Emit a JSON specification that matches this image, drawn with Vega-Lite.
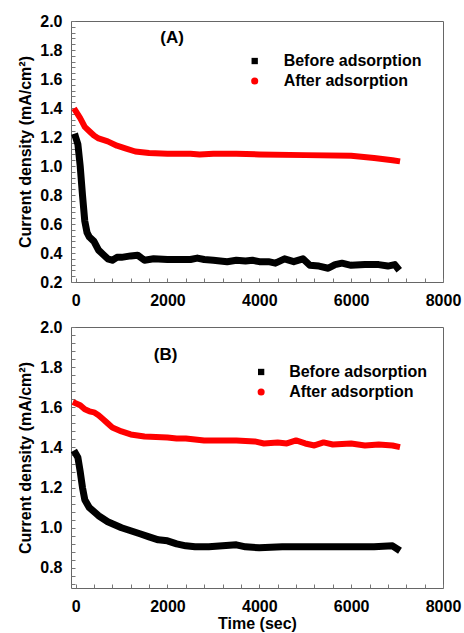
{
  "$schema": "https://vega.github.io/schema/vega-lite/v6.json",
  "padding": {"left": 17, "top": 12, "right": 5, "bottom": 2},
  "config": {
    "font": "Liberation Sans",
    "view": {"stroke": "#666", "strokeWidth": 1},
    "axis": {"grid": false, "domain": false, "ticks": true, "tickSize": -4, "tickColor": "#777", "labelFont": "Liberation Sans", "labelFontSize": 16, "labelFontWeight": "bold", "labelColor": "#000", "titleFont": "Liberation Sans", "titleFontSize": 16, "titleFontWeight": "bold", "titleColor": "#000", "labelFlush": false, "labelOverlap": false}
  },
  "datasets": {
    "A": [
      {"t": 0, "j": 1.2, "s": "Before adsorption"},
      {"t": 50, "j": 1.15, "s": "Before adsorption"},
      {"t": 100, "j": 1.0, "s": "Before adsorption"},
      {"t": 150, "j": 0.8, "s": "Before adsorption"},
      {"t": 200, "j": 0.62, "s": "Before adsorption"},
      {"t": 250, "j": 0.54, "s": "Before adsorption"},
      {"t": 300, "j": 0.51, "s": "Before adsorption"},
      {"t": 400, "j": 0.48, "s": "Before adsorption"},
      {"t": 500, "j": 0.42, "s": "Before adsorption"},
      {"t": 600, "j": 0.39, "s": "Before adsorption"},
      {"t": 700, "j": 0.36, "s": "Before adsorption"},
      {"t": 800, "j": 0.35, "s": "Before adsorption"},
      {"t": 900, "j": 0.37, "s": "Before adsorption"},
      {"t": 1000, "j": 0.37, "s": "Before adsorption"},
      {"t": 1200, "j": 0.38, "s": "Before adsorption"},
      {"t": 1350, "j": 0.385, "s": "Before adsorption"},
      {"t": 1500, "j": 0.35, "s": "Before adsorption"},
      {"t": 1700, "j": 0.36, "s": "Before adsorption"},
      {"t": 2000, "j": 0.355, "s": "Before adsorption"},
      {"t": 2500, "j": 0.355, "s": "Before adsorption"},
      {"t": 2650, "j": 0.365, "s": "Before adsorption"},
      {"t": 2800, "j": 0.355, "s": "Before adsorption"},
      {"t": 3000, "j": 0.35, "s": "Before adsorption"},
      {"t": 3300, "j": 0.34, "s": "Before adsorption"},
      {"t": 3500, "j": 0.35, "s": "Before adsorption"},
      {"t": 3700, "j": 0.345, "s": "Before adsorption"},
      {"t": 3850, "j": 0.35, "s": "Before adsorption"},
      {"t": 4000, "j": 0.34, "s": "Before adsorption"},
      {"t": 4200, "j": 0.34, "s": "Before adsorption"},
      {"t": 4350, "j": 0.33, "s": "Before adsorption"},
      {"t": 4550, "j": 0.36, "s": "Before adsorption"},
      {"t": 4750, "j": 0.34, "s": "Before adsorption"},
      {"t": 4950, "j": 0.36, "s": "Before adsorption"},
      {"t": 5100, "j": 0.315, "s": "Before adsorption"},
      {"t": 5300, "j": 0.31, "s": "Before adsorption"},
      {"t": 5500, "j": 0.295, "s": "Before adsorption"},
      {"t": 5650, "j": 0.32, "s": "Before adsorption"},
      {"t": 5800, "j": 0.33, "s": "Before adsorption"},
      {"t": 6000, "j": 0.315, "s": "Before adsorption"},
      {"t": 6300, "j": 0.32, "s": "Before adsorption"},
      {"t": 6600, "j": 0.32, "s": "Before adsorption"},
      {"t": 6800, "j": 0.31, "s": "Before adsorption"},
      {"t": 6950, "j": 0.32, "s": "Before adsorption"},
      {"t": 7000, "j": 0.3, "s": "Before adsorption"},
      {"t": 0, "j": 1.38, "s": "After adsorption"},
      {"t": 100, "j": 1.33, "s": "After adsorption"},
      {"t": 200, "j": 1.27, "s": "After adsorption"},
      {"t": 300, "j": 1.24, "s": "After adsorption"},
      {"t": 400, "j": 1.21, "s": "After adsorption"},
      {"t": 500, "j": 1.19, "s": "After adsorption"},
      {"t": 700, "j": 1.17, "s": "After adsorption"},
      {"t": 900, "j": 1.14, "s": "After adsorption"},
      {"t": 1100, "j": 1.12, "s": "After adsorption"},
      {"t": 1300, "j": 1.1, "s": "After adsorption"},
      {"t": 1600, "j": 1.09, "s": "After adsorption"},
      {"t": 2000, "j": 1.085, "s": "After adsorption"},
      {"t": 2500, "j": 1.085, "s": "After adsorption"},
      {"t": 2700, "j": 1.08, "s": "After adsorption"},
      {"t": 3000, "j": 1.085, "s": "After adsorption"},
      {"t": 3500, "j": 1.085, "s": "After adsorption"},
      {"t": 4000, "j": 1.08, "s": "After adsorption"},
      {"t": 5000, "j": 1.075, "s": "After adsorption"},
      {"t": 6000, "j": 1.07, "s": "After adsorption"},
      {"t": 6500, "j": 1.055, "s": "After adsorption"},
      {"t": 6900, "j": 1.04, "s": "After adsorption"},
      {"t": 7000, "j": 1.035, "s": "After adsorption"}
    ],
    "B": [
      {"t": 0, "j": 1.37, "s": "Before adsorption"},
      {"t": 50, "j": 1.35, "s": "Before adsorption"},
      {"t": 100, "j": 1.28, "s": "Before adsorption"},
      {"t": 150, "j": 1.2, "s": "Before adsorption"},
      {"t": 200, "j": 1.14, "s": "Before adsorption"},
      {"t": 300, "j": 1.1, "s": "Before adsorption"},
      {"t": 400, "j": 1.08, "s": "Before adsorption"},
      {"t": 500, "j": 1.06, "s": "Before adsorption"},
      {"t": 600, "j": 1.045, "s": "Before adsorption"},
      {"t": 700, "j": 1.03, "s": "Before adsorption"},
      {"t": 800, "j": 1.02, "s": "Before adsorption"},
      {"t": 1000, "j": 1.0, "s": "Before adsorption"},
      {"t": 1200, "j": 0.985, "s": "Before adsorption"},
      {"t": 1400, "j": 0.97, "s": "Before adsorption"},
      {"t": 1600, "j": 0.955, "s": "Before adsorption"},
      {"t": 1800, "j": 0.94, "s": "Before adsorption"},
      {"t": 2000, "j": 0.935, "s": "Before adsorption"},
      {"t": 2200, "j": 0.92, "s": "Before adsorption"},
      {"t": 2400, "j": 0.91, "s": "Before adsorption"},
      {"t": 2600, "j": 0.905, "s": "Before adsorption"},
      {"t": 2900, "j": 0.905, "s": "Before adsorption"},
      {"t": 3200, "j": 0.91, "s": "Before adsorption"},
      {"t": 3500, "j": 0.915, "s": "Before adsorption"},
      {"t": 3700, "j": 0.905, "s": "Before adsorption"},
      {"t": 4000, "j": 0.9, "s": "Before adsorption"},
      {"t": 4500, "j": 0.905, "s": "Before adsorption"},
      {"t": 5000, "j": 0.905, "s": "Before adsorption"},
      {"t": 5500, "j": 0.905, "s": "Before adsorption"},
      {"t": 6000, "j": 0.905, "s": "Before adsorption"},
      {"t": 6500, "j": 0.905, "s": "Before adsorption"},
      {"t": 6900, "j": 0.91, "s": "Before adsorption"},
      {"t": 7000, "j": 0.895, "s": "Before adsorption"},
      {"t": 0, "j": 1.62, "s": "After adsorption"},
      {"t": 100, "j": 1.61, "s": "After adsorption"},
      {"t": 200, "j": 1.59, "s": "After adsorption"},
      {"t": 300, "j": 1.58, "s": "After adsorption"},
      {"t": 400, "j": 1.575, "s": "After adsorption"},
      {"t": 500, "j": 1.56, "s": "After adsorption"},
      {"t": 600, "j": 1.54, "s": "After adsorption"},
      {"t": 700, "j": 1.52, "s": "After adsorption"},
      {"t": 800, "j": 1.5, "s": "After adsorption"},
      {"t": 1000, "j": 1.48, "s": "After adsorption"},
      {"t": 1200, "j": 1.465, "s": "After adsorption"},
      {"t": 1500, "j": 1.455, "s": "After adsorption"},
      {"t": 2000, "j": 1.45, "s": "After adsorption"},
      {"t": 2200, "j": 1.445, "s": "After adsorption"},
      {"t": 2400, "j": 1.445, "s": "After adsorption"},
      {"t": 2600, "j": 1.44, "s": "After adsorption"},
      {"t": 2800, "j": 1.435, "s": "After adsorption"},
      {"t": 3000, "j": 1.435, "s": "After adsorption"},
      {"t": 3500, "j": 1.435, "s": "After adsorption"},
      {"t": 3900, "j": 1.43, "s": "After adsorption"},
      {"t": 4100, "j": 1.42, "s": "After adsorption"},
      {"t": 4400, "j": 1.425, "s": "After adsorption"},
      {"t": 4600, "j": 1.42, "s": "After adsorption"},
      {"t": 4800, "j": 1.435, "s": "After adsorption"},
      {"t": 5000, "j": 1.42, "s": "After adsorption"},
      {"t": 5200, "j": 1.41, "s": "After adsorption"},
      {"t": 5400, "j": 1.425, "s": "After adsorption"},
      {"t": 5600, "j": 1.415, "s": "After adsorption"},
      {"t": 6000, "j": 1.42, "s": "After adsorption"},
      {"t": 6300, "j": 1.41, "s": "After adsorption"},
      {"t": 6600, "j": 1.415, "s": "After adsorption"},
      {"t": 6900, "j": 1.41, "s": "After adsorption"},
      {"t": 7000, "j": 1.405, "s": "After adsorption"}
    ],
    "legA": [
      {"t": 3900, "j": 1.724, "s": "Before adsorption", "lt": 4530},
      {"t": 3900, "j": 1.586, "s": "After adsorption", "lt": 4530}
    ],
    "legB": [
      {"t": 4040, "j": 1.776, "s": "Before adsorption", "lt": 4650},
      {"t": 4040, "j": 1.676, "s": "After adsorption", "lt": 4650}
    ]
  },
  "vconcat": [
    {
      "width": 372,
      "height": 261,
      "encoding": {
        "x": {"field": "t", "type": "quantitative", "scale": {"domain": [-100, 8000], "nice": false, "zero": false},
              "axis": {"title": null, "values": [0,400,800,1200,1600,2000,2400,2800,3200,3600,4000,4400,4800,5200,5600,6000,6400,6800,7200,7600,8000], "format": "d", "labelExpr": "datum.value % 2000 == 0 ? datum.label : ''", "labelPadding": 14, "labelOverlap": false, "labelBound": false}},
        "y": {"field": "j", "type": "quantitative", "scale": {"domain": [0.2, 2.0], "nice": false, "zero": false},
              "axis": {"title": "Current density (mA/cm²)", "values": [0.2,0.24,0.28,0.32,0.36,0.4,0.44,0.48,0.52,0.56,0.6,0.64,0.68,0.72,0.76,0.8,0.84,0.88,0.92,0.96,1.0,1.04,1.08,1.12,1.16,1.2,1.24,1.28,1.32,1.36,1.4,1.44,1.48,1.52,1.56,1.6,1.64,1.68,1.72,1.76,1.8,1.84,1.88,1.92,1.96,2.0], "labelExpr": "abs(round(datum.value*100)) % 20 == 0 ? format(datum.value, '.1f') : ''", "labelPadding": 13, "titlePadding": 6, "labelOverlap": false, "labelBound": false}}
      },
      "layer": [
        {
          "data": {"name": "A"},
          "mark": {"type": "line", "strokeCap": "square", "strokeJoin": "round"},
          "encoding": {
            "color": {"field": "s", "type": "nominal", "scale": {"domain": ["Before adsorption", "After adsorption"], "range": ["#000000", "#ff0000"]}, "legend": null},
            "strokeWidth": {"field": "s", "type": "nominal", "scale": {"domain": ["Before adsorption", "After adsorption"], "range": [7, 6]}, "legend": null}
          }
        },
        {
          "data": {"name": "legA"},
          "mark": {"type": "point", "filled": true, "opacity": 1},
          "encoding": {
            "color": {"field": "s", "type": "nominal", "legend": null},
            "shape": {"field": "s", "type": "nominal", "scale": {"domain": ["Before adsorption", "After adsorption"], "range": ["square", "circle"]}, "legend": null},
            "size": {"field": "s", "type": "nominal", "scale": {"domain": ["Before adsorption", "After adsorption"], "range": [40, 50]}, "legend": null}
          }
        },
        {
          "data": {"name": "legA"},
          "mark": {"type": "text", "align": "left", "baseline": "middle", "fontSize": 16, "fontWeight": "bold", "font": "Liberation Sans", "color": "#000"},
          "encoding": {
            "x": {"field": "lt", "type": "quantitative"},
            "text": {"field": "s"}
          }
        },
        {
          "data": {"values": [{"t": 2100, "j": 1.88, "label": "(A)"}]},
          "mark": {"type": "text", "fontSize": 17, "fontWeight": "bold", "font": "Liberation Sans", "color": "#000"},
          "encoding": {
            "text": {"field": "label"}
          }
        }
      ]
    },
    {
      "width": 372,
      "height": 261,
      "encoding": {
        "x": {"field": "t", "type": "quantitative", "scale": {"domain": [-100, 8000], "nice": false, "zero": false},
              "axis": {"title": "Time (sec)", "values": [0,400,800,1200,1600,2000,2400,2800,3200,3600,4000,4400,4800,5200,5600,6000,6400,6800,7200,7600,8000], "format": "d", "labelExpr": "datum.value % 2000 == 0 ? datum.label : ''", "labelPadding": 14, "titlePadding": 1, "labelOverlap": false, "labelBound": false}},
        "y": {"field": "j", "type": "quantitative", "scale": {"domain": [0.7, 2.0], "nice": false, "zero": false},
              "axis": {"title": "Current density (mA/cm²)", "values": [0.72,0.76,0.8,0.84,0.88,0.92,0.96,1.0,1.04,1.08,1.12,1.16,1.2,1.24,1.28,1.32,1.36,1.4,1.44,1.48,1.52,1.56,1.6,1.64,1.68,1.72,1.76,1.8,1.84,1.88,1.92,1.96,2.0], "labelExpr": "abs(round(datum.value*100)) % 20 == 0 ? format(datum.value, '.1f') : ''", "labelPadding": 13, "titlePadding": 6, "labelOverlap": false, "labelBound": false}}
      },
      "layer": [
        {
          "data": {"name": "B"},
          "mark": {"type": "line", "strokeCap": "square", "strokeJoin": "round"},
          "encoding": {
            "color": {"field": "s", "type": "nominal", "scale": {"domain": ["Before adsorption", "After adsorption"], "range": ["#000000", "#ff0000"]}, "legend": null},
            "strokeWidth": {"field": "s", "type": "nominal", "scale": {"domain": ["Before adsorption", "After adsorption"], "range": [7, 6]}, "legend": null}
          }
        },
        {
          "data": {"name": "legB"},
          "mark": {"type": "point", "filled": true, "opacity": 1},
          "encoding": {
            "color": {"field": "s", "type": "nominal", "legend": null},
            "shape": {"field": "s", "type": "nominal", "scale": {"domain": ["Before adsorption", "After adsorption"], "range": ["square", "circle"]}, "legend": null},
            "size": {"field": "s", "type": "nominal", "scale": {"domain": ["Before adsorption", "After adsorption"], "range": [40, 50]}, "legend": null}
          }
        },
        {
          "data": {"name": "legB"},
          "mark": {"type": "text", "align": "left", "baseline": "middle", "fontSize": 16, "fontWeight": "bold", "font": "Liberation Sans", "color": "#000"},
          "encoding": {
            "x": {"field": "lt", "type": "quantitative"},
            "text": {"field": "s"}
          }
        },
        {
          "data": {"values": [{"t": 1960, "j": 1.86, "label": "(B)"}]},
          "mark": {"type": "text", "fontSize": 17, "fontWeight": "bold", "font": "Liberation Sans", "color": "#000"},
          "encoding": {
            "text": {"field": "label"}
          }
        }
      ]
    }
  ],
  "spacing": 45,
  "bounds": "flush",
  "resolve": {"scale": {"x": "independent", "y": "independent", "color": "independent", "shape": "independent", "size": "independent", "strokeWidth": "independent"}}
}
